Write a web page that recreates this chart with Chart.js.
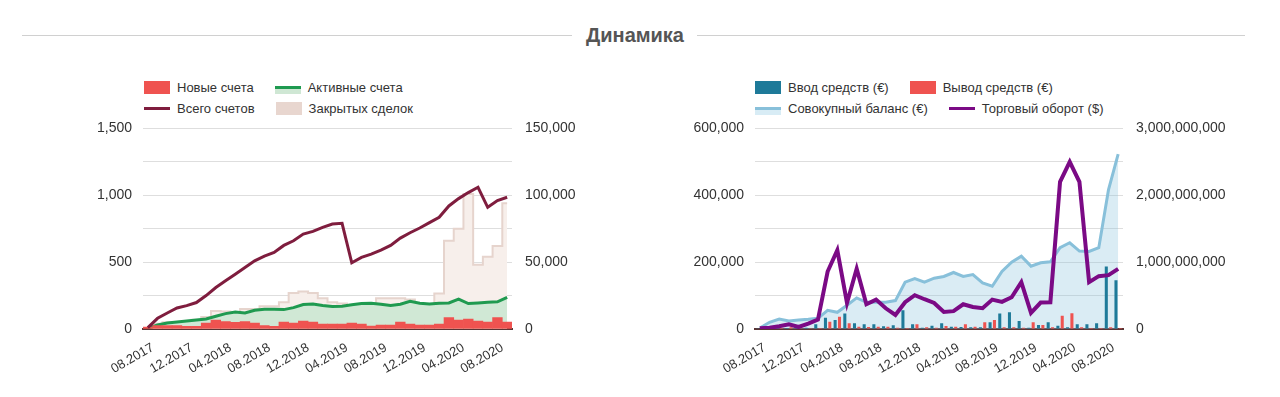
<!DOCTYPE html>
<html lang="ru">
<head>
<meta charset="utf-8">
<title>Динамика</title>
<script src="https://cdn.jsdelivr.net/npm/chart.js@4.4.1/dist/chart.umd.min.js"></script>
<style>
  html, body { margin: 0; padding: 0; background: #fff; }
  body { width: 1280px; height: 397px; position: relative; overflow: hidden;
         font-family: "Liberation Sans", Arial, sans-serif; color: #333; }
  .rule { position: absolute; top: 35px; height: 1px; background: #d0d0d0; }
  .title { position: absolute; left: 535px; width: 200px; top: 22px; text-align: center;
           font-weight: bold; font-size: 20px; line-height: 26px; color: #555; }
  .legend { position: absolute; top: 77px; font-size: 13px; color: #333; }
  .legend .row { display: flex; align-items: center; height: 21px; }
  .legend .item { display: flex; align-items: center; margin-right: 21px; }
  .ico { width: 26px; height: 13px; margin-right: 7px; position: relative; }
  .ico.box { background: var(--c); }
  .ico.area::after { content: ''; position: absolute; left: 0; right: 0; top: 7px; bottom: 0; background: var(--f); }
  .ico.line::before { content: ''; position: absolute; left: 0; right: 0; top: 5px; height: 3px; background: var(--c); z-index: 1; }
  canvas { position: absolute; }
</style>
</head>
<body>
<div class="rule" style="left:22px;width:550px"></div>
<div class="rule" style="left:697px;width:548px"></div>
<div class="title">Динамика</div>

<div class="legend" style="left:144px">
  <div class="row">
    <div class="item"><div class="ico box" style="--c:#ef5350"></div>Новые счета</div>
    <div class="item"><div class="ico line area" style="--c:#1f9a50;--f:#cfe7d4"></div>Активные счета</div>
  </div>
  <div class="row">
    <div class="item"><div class="ico line" style="--c:#7f1d3e"></div>Всего счетов</div>
    <div class="item"><div class="ico box" style="--c:#e8d6cf"></div>Закрытых сделок</div>
  </div>
</div>

<div class="legend" style="left:755px">
  <div class="row">
    <div class="item"><div class="ico box" style="--c:#1e7a99"></div>Ввод средств (€)</div>
    <div class="item"><div class="ico box" style="--c:#ef5350"></div>Вывод средств (€)</div>
  </div>
  <div class="row">
    <div class="item"><div class="ico line area" style="--c:#88c0da;--f:#d8ecf5"></div>Совокупный баланс (€)</div>
    <div class="item"><div class="ico line" style="--c:#7b0a85"></div>Торговый оборот ($)</div>
  </div>
</div>

<canvas id="accountsChart" width="510" height="290" style="left:80px;top:107px"></canvas>
<canvas id="moneyChart" width="560" height="290" style="left:690px;top:107px"></canvas>

<script>
const months = [
  '08.2017', '09.2017', '10.2017', '11.2017', '12.2017', '01.2018', '02.2018', '03.2018',
  '04.2018', '05.2018', '06.2018', '07.2018', '08.2018', '09.2018', '10.2018', '11.2018',
  '12.2018', '01.2019', '02.2019', '03.2019', '04.2019', '05.2019', '06.2019', '07.2019',
  '08.2019', '09.2019', '10.2019', '11.2019', '12.2019', '01.2020', '02.2020', '03.2020',
  '04.2020', '05.2020', '06.2020', '07.2020', '08.2020', '09.2020'
];

// left chart
const newAccounts = [15, 25, 25, 25, 20, 20, 45, 67, 55, 50, 55, 45, 25, 20, 52, 45, 60, 52, 37,
  37, 37, 45, 37, 22, 30, 30, 52, 37, 30, 30, 37, 85, 67, 75, 60, 52, 85, 52];
const activeAccounts = [5, 30, 45, 52, 60, 67, 75, 95, 115, 127, 120, 140, 148, 148, 145, 160, 183,
  187, 175, 168, 170, 182, 190, 192, 185, 175, 185, 207, 192, 187, 192, 195, 224, 190, 195, 200, 203, 237];
const totalAccounts = [10, 80, 120, 157, 175, 198, 250, 310, 360, 410, 460, 510, 545, 572, 625, 660,
  710, 730, 760, 785, 790, 495, 535, 560, 590, 625, 680, 720, 755, 795, 835, 920, 975, 1020, 1060, 910, 960, 985];
const closedDeals = [2000, 4000, 5000, 5000, 6000, 7000, 9000, 13400, 13000, 12500, 15000, 15000,
  17000, 17000, 20000, 27000, 28000, 27000, 23000, 20000, 19000, 18000, 17000, 18000, 23000, 23000,
  23000, 22000, 19000, 18000, 26500, 66000, 75000, 101000, 48000, 54000, 62000, 94000];

// right chart
const deposits = [2000, 3000, 4000, 3000, 5000, 4000, 14000, 34000, 27000, 46000, 17000, 14000,
  14000, 8000, 11000, 56000, 14000, 4000, 10000, 17000, 7000, 6000, 5000, 5000, 20000, 46000,
  50000, 24000, 4000, 12000, 20000, 10000, 5000, 14000, 14000, 17000, 187000, 146000];
const withdrawals = [1000, 2000, 3000, 5000, 2000, 2000, 3000, 22000, 37000, 17000, 7000, 6000,
  7000, 7000, 4000, 3000, 14000, 5000, 4000, 9000, 7000, 14000, 7000, 20000, 27000, 5000, 5000,
  4000, 20000, 12000, 5000, 40000, 47000, 5000, 3000, 3000, 5000, 3000];
const balance = [3000, 20000, 30000, 24000, 27000, 29000, 32000, 56000, 50000, 71000, 93000, 80000,
  80000, 80000, 85000, 140000, 151000, 140000, 152000, 157000, 169000, 157000, 163000, 138000,
  128000, 172000, 200000, 218000, 188000, 198000, 201000, 243000, 258000, 233000, 232000, 243000,
  416000, 523000];
const turnover = [10e6, 20e6, 40e6, 70e6, 30e6, 80e6, 140e6, 860e6, 1180e6, 390e6, 900e6, 370e6,
  440e6, 310e6, 210e6, 400e6, 505e6, 445e6, 390e6, 255e6, 267e6, 370e6, 330e6, 312e6, 440e6, 405e6,
  475e6, 700e6, 240e6, 395e6, 400e6, 2200e6, 2500e6, 2200e6, 700e6, 790e6, 805e6, 900e6];

Chart.defaults.font.family = '"Liberation Sans", Arial, sans-serif';
Chart.defaults.font.size = 13;
Chart.defaults.color = '#333';

const fmt = v => v.toLocaleString('en-US');

function axes(leftMax, leftStep, leftLabelStep, rightMax, rightStep, rightLabelStep, leftW, rightW) {
  return {
    x: {
      offset: true,
      grid: { display: false },
      border: { color: '#5b3535', width: 2 },
      ticks: {
        autoSkip: false, maxRotation: 30, minRotation: 30, padding: 3, labelOffset: 5,
        callback: (v, i) => i % 4 === 0 ? months[i] : ''
      },
      afterFit: s => { s.height = 68; }
    },
    y: {
      position: 'left', min: 0, max: leftMax,
      ticks: { stepSize: leftStep, padding: 11, font: { size: 14 },
               callback: v => v % leftLabelStep === 0 ? fmt(v) : '' },
      grid: { color: '#dedede', drawTicks: false },
      border: { display: false },
      afterFit: s => { s.width = leftW; }
    },
    y1: {
      position: 'right', min: 0, max: rightMax,
      ticks: { stepSize: rightStep, padding: 13, font: { size: 14 },
               callback: v => v % rightLabelStep === 0 ? fmt(v) : '' },
      grid: { display: false, drawTicks: false },
      border: { display: false },
      afterFit: s => { s.width = rightW; }
    }
  };
}

const common = {
  responsive: false,
  animation: false,
  devicePixelRatio: 1,
  layout: { padding: { top: 9 } },
  elements: { point: { radius: 0 }, line: { tension: 0 } },
  plugins: { legend: { display: false }, tooltip: { enabled: false } }
};

new Chart(document.getElementById('accountsChart'), {
  type: 'bar',
  data: {
    labels: months,
    datasets: [
      { type: 'line', label: 'Всего счетов', data: totalAccounts, borderColor: '#7f1d3e',
        borderWidth: 3, yAxisID: 'y', order: 1 },
      { type: 'bar', label: 'Новые счета', data: newAccounts, backgroundColor: '#ef5350',
        barPercentage: 1, categoryPercentage: 1, yAxisID: 'y', order: 2 },
      { type: 'line', label: 'Активные счета', data: activeAccounts, borderColor: '#1f9a50',
        borderWidth: 3, backgroundColor: '#d0e8d5', fill: 'origin', yAxisID: 'y', order: 3 },
      { type: 'line', label: 'Закрытых сделок', data: closedDeals, stepped: 'middle',
        borderColor: '#e6d4cd', borderWidth: 2, backgroundColor: '#f7efeb', fill: 'origin',
        yAxisID: 'y1', order: 4 }
    ]
  },
  options: Object.assign({}, common, {
    scales: axes(1500, 250, 500, 150000, 25000, 50000, 63, 78)
  })
});

new Chart(document.getElementById('moneyChart'), {
  type: 'bar',
  data: {
    labels: months,
    datasets: [
      { type: 'line', label: 'Торговый оборот ($)', data: turnover, borderColor: '#7b0a85',
        borderWidth: 4, yAxisID: 'y1', order: 0 },
      { type: 'bar', label: 'Ввод средств (€)', data: deposits, backgroundColor: '#1e7a99',
        barPercentage: 0.7, categoryPercentage: 0.9, yAxisID: 'y', order: 1 },
      { type: 'bar', label: 'Вывод средств (€)', data: withdrawals, backgroundColor: '#ef5350',
        barPercentage: 0.7, categoryPercentage: 0.9, yAxisID: 'y', order: 1 },
      { type: 'line', label: 'Совокупный баланс (€)', data: balance, borderColor: '#88c0da',
        borderWidth: 3, backgroundColor: 'rgba(140, 196, 222, 0.32)', fill: 'origin',
        yAxisID: 'y', order: 2 }
    ]
  },
  options: Object.assign({}, common, {
    scales: axes(600000, 100000, 200000, 3000000000, 500000000, 1000000000, 65, 127)
  })
});
</script>
</body>
</html>
